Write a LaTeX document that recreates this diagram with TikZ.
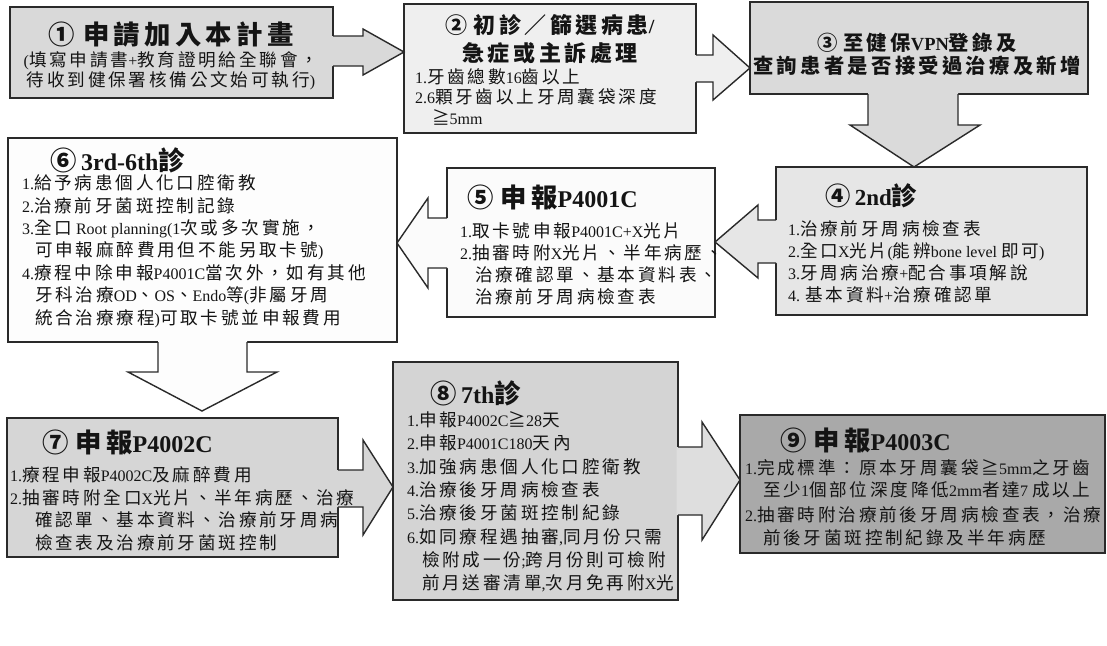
\documentclass[tikz,border=0pt]{standalone}
\usepackage{fontspec}
\usetikzlibrary{calc}
\setmainfont{Liberation Serif}
\newfontfamily\cjk{Noto Sans CJK TC}[Scale=1.1,LetterSpace=16]
\XeTeXinterchartokenstate=1
\newXeTeXintercharclass\cjkcls
\newcount\cjkc
\def\setcjkrange#1#2{\cjkc=#1 \loop\XeTeXcharclass\cjkc=\cjkcls\ifnum\cjkc<#2\advance\cjkc by 1 \repeat}
\setcjkrange{"4E00}{"9FFF}
\setcjkrange{"3000}{"303F}
\setcjkrange{"FF00}{"FFEF}
\setcjkrange{"2460}{"24FF}
\XeTeXcharclass"2267=\cjkcls
\XeTeXcharclass"2265=\cjkcls
\XeTeXinterchartoks 0 \cjkcls = {\cjk}
\XeTeXinterchartoks 4095 \cjkcls = {\cjk}
\XeTeXinterchartoks \cjkcls 0 = {\rmfamily}
\XeTeXinterchartoks \cjkcls 4095 = {\rmfamily}
\definecolor{lc}{HTML}{2A2A2A}
\definecolor{tc}{HTML}{141414}
\definecolor{g1}{HTML}{D9D9D9}
\definecolor{g2}{HTML}{EFEFEF}
\definecolor{g3}{HTML}{DADADA}
\definecolor{g4}{HTML}{E6E6E6}
\definecolor{g5}{HTML}{FBFBFB}
\definecolor{g6}{HTML}{FDFDFD}
\definecolor{g7}{HTML}{D6D6D6}
\definecolor{g8}{HTML}{D4D4D4}
\definecolor{g89}{HTML}{DEDEDE}
\definecolor{g9}{HTML}{A9A9A9}
\begin{document}
\begin{tikzpicture}[x=1pt,y=-1pt,
 bx/.style={draw=lc, line width=1.4pt, inner sep=0pt, outer sep=0pt, anchor=north west},
 edge/.style={draw=lc, line width=1.4pt, line join=miter},
 tl/.style={inner sep=0pt, outer sep=0pt, anchor=base west, text=tc, font=\bfseries\fontsize{24}{24}\selectfont},
 tlc/.style={tl, anchor=base},
 bd/.style={inner sep=0pt, outer sep=0pt, anchor=base west, text=tc, font=\fontsize{16}{16}\selectfont},
 bdc/.style={bd, anchor=base}]
\useasboundingbox (0,0) rectangle (1107,645);
\fill[white] (0,0) rectangle (1107,645);
% boxes
\node[bx, fill=g1, minimum width=323, minimum height=91] (b1) at (10,7) {};
\node[bx, fill=g2, minimum width=292, minimum height=129] (b2) at (404,4) {};
\node[bx, fill=g3, minimum width=338, minimum height=92] (b3) at (750,2) {};
\node[bx, fill=g4, minimum width=311, minimum height=148] (b4) at (776,167) {};
\node[bx, fill=g5, minimum width=268, minimum height=149] (b5) at (447,168) {};
\node[bx, fill=g6, minimum width=389, minimum height=204] (b6) at (8,138) {};
\node[bx, fill=g7, minimum width=331, minimum height=139] (b7) at (7,418) {};
\node[bx, fill=g8, minimum width=285, minimum height=238] (b8) at (393,362) {};
\node[bx, fill=g9, minimum width=365, minimum height=138] (b9) at (740,415) {};
\coordinate (t67) at (202,411);
% arrow 1 -> 2
\fill[g1] ($(b1.east|-0,36)+(-1.5,0)$) -- (363,36) -- (363,29) -- (b2.west|-0,52) -- (363,75) -- (363,66) -- ($(b1.east|-0,66)+(-1.5,0)$) -- cycle;
\draw[edge] (b1.east|-0,36) -- (363,36) -- (363,29) -- (b2.west|-0,52) -- (363,75) -- (363,66) -- (b1.east|-0,66);
% arrow 2 -> 3
\fill[g2] ($(b2.east|-0,55)+(-1.5,0)$) -- (713,55) -- (713,35) -- (b3.west|-0,68) -- (713,100) -- (713,82) -- ($(b2.east|-0,82)+(-1.5,0)$) -- cycle;
\draw[edge] (b2.east|-0,55) -- (713,55) -- (713,35) -- (b3.west|-0,68) -- (713,100) -- (713,82) -- (b2.east|-0,82);
% arrow 3 -> 4
\fill[g3] ($(868,0|-b3.south)+(0,-1.5)$) -- (868,125) -- (850,125) -- (914,0|-b4.north) -- (980,125) -- (958,125) -- ($(958,0|-b3.south)+(0,-1.5)$) -- cycle;
\draw[edge] (868,0|-b3.south) -- (868,125) -- (850,125) -- (914,0|-b4.north) -- (980,125) -- (958,125) -- (958,0|-b3.south);
% arrow 4 -> 5
\fill[g4] ($(b4.west|-0,220)+(1.5,0)$) -- (758,220) -- (758,205) -- (b5.east|-0,242) -- (758,278) -- (758,263) -- ($(b4.west|-0,263)+(1.5,0)$) -- cycle;
\draw[edge] (b4.west|-0,220) -- (758,220) -- (758,205) -- (b5.east|-0,242) -- (758,278) -- (758,263) -- (b4.west|-0,263);
% arrow 5 -> 6
\fill[g5] ($(b5.west|-0,218)+(1.5,0)$) -- (428,218) -- (428,198) -- (b6.east|-0,243) -- (428,288) -- (428,268) -- ($(b5.west|-0,268)+(1.5,0)$) -- cycle;
\draw[edge] (b5.west|-0,218) -- (428,218) -- (428,198) -- (b6.east|-0,243) -- (428,288) -- (428,268) -- (b5.west|-0,268);
% arrow 6 -> 7
\fill[g6] ($(158,0|-b6.south)+(0,-1.5)$) -- (158,372) -- (128,372) -- (t67) -- (277,372) -- (247,372) -- ($(247,0|-b6.south)+(0,-1.5)$) -- cycle;
\draw[edge] (158,0|-b6.south) -- (158,372) -- (128,372) -- (t67) -- (277,372) -- (247,372) -- (247,0|-b6.south);
% arrow 7 -> 8
\fill[g7] ($(b7.east|-0,470)+(-1.5,0)$) -- (363,470) -- (363,440) -- (b8.west|-0,487) -- (363,535) -- (363,507) -- ($(b7.east|-0,507)+(-1.5,0)$) -- cycle;
\draw[edge] (b7.east|-0,470) -- (363,470) -- (363,440) -- (b8.west|-0,487) -- (363,535) -- (363,507) -- (b7.east|-0,507);
% arrow 8 -> 9
\fill[g89] ($(b8.east|-0,447)+(-1.5,0)$) -- (702,447) -- (702,422) -- (b9.west|-0,480) -- (702,540) -- (702,515) -- ($(b8.east|-0,515)+(-1.5,0)$) -- cycle;
\draw[edge] (b8.east|-0,447) -- (702,447) -- (702,422) -- (b9.west|-0,480) -- (702,540) -- (702,515) -- (b8.east|-0,515);
% texts box 1
\node[tlc, font=\bfseries\fontsize{24}{24}\selectfont] (t1a) at (171,44) {①\hspace{0.35em}申請加入本計畫};
\node[bdc] (t1b) at (171,66) {(填寫申請書+教育證明給全聯會，};
\node[bdc] (t1c) at (171,86) {待收到健保署核備公文始可執行)};
% box 2
\node[tlc, font=\bfseries\fontsize{20}{20}\selectfont] (t2a) at (550,33) {②\hspace{0.3em}初診／篩選病患/};
\node[tlc, font=\bfseries\fontsize{20}{20}\selectfont] (t2b) at (550,61) {急症或主訴處理};
\node[bd] (t2c) at (415,83) {1.牙齒總數16齒以上};
\node[bd] (t2d) at (415,103) {2.6顆牙齒以上牙周囊袋深度};
\node[bd] (t2e) at (432,124) {≧5mm};
% box 3
\node[tlc, font=\bfseries\fontsize{18.5}{18.5}\selectfont] (t3a) at (917,50) {③\hspace{0.3em}至健保VPN登錄及};
\node[tlc, font=\bfseries\fontsize{18.5}{18.5}\selectfont] (t3b) at (917,73) {查詢患者是否接受過治療及新增};
% box 4
\node[tl, font=\bfseries\fontsize{23}{23}\selectfont] (t4a) at (825,205) {④\hspace{0.2em}2nd診};
\node[bd] (t4b) at (788,235) {1.治療前牙周病檢查表};
\node[bd] (t4c) at (788,257) {2.全口X光片(能辨bone level 即可)};
\node[bd] (t4d) at (788,279) {3.牙周病治療+配合事項解說};
\node[bd] (t4e) at (788,301) {4. 基本資料+治療確認單};
% box 5
\node[tl] (t5a) at (467,207) {⑤\hspace{0.3em}申報P4001C};
\node[bd] (t5b) at (460,237) {1.取卡號申報P4001C+X光片};
\node[bd] (t5c) at (460,259) {2.抽審時附X光片、半年病歷、};
\node[bd] (t5d) at (475,281) {治療確認單、基本資料表、};
\node[bd] (t5e) at (475,303) {治療前牙周病檢查表};
% box 6
\node[tl] (t6a) at (50,170) {⑥\hspace{0.2em}3rd-6th診};
\node[bd] (t6b) at (22,189) {1.給予病患個人化口腔衛教};
\node[bd] (t6c) at (22,212) {2.治療前牙菌斑控制記錄};
\node[bd] (t6d) at (22,234) {3.全口 Root planning(1次或多次實施，};
\node[bd] (t6e) at (35,256) {可申報麻醉費用但不能另取卡號)};
\node[bd] (t6f) at (22,279) {4.療程中除申報P4001C當次外，如有其他};
\node[bd] (t6g) at (35,301) {牙科治療OD、OS、Endo等(非屬牙周};
\node[bd] (t6h) at (35,324) {統合治療療程)可取卡號並申報費用};
% box 7
\node[tl] (t7a) at (42,452) {⑦\hspace{0.3em}申報P4002C};
\node[bd] (t7b) at (10,481) {1.療程申報P4002C及麻醉費用};
\node[bd] (t7c) at (10,504) {2.抽審時附全口X光片、半年病歷、治療};
\node[bd] (t7d) at (35,526) {確認單、基本資料、治療前牙周病};
\node[bd] (t7e) at (35,549) {檢查表及治療前牙菌斑控制};
% box 8
\node[tl] (t8a) at (430,403) {⑧\hspace{0.2em}7th診};
\node[bd] (t8b) at (407,426) {1.申報P4002C≧28天};
\node[bd] (t8c) at (407,449) {2.申報P4001C180天內};
\node[bd] (t8d) at (407,473) {3.加強病患個人化口腔衛教};
\node[bd] (t8e) at (407,496) {4.治療後牙周病檢查表};
\node[bd] (t8f) at (407,519) {5.治療後牙菌斑控制紀錄};
\node[bd] (t8g) at (407,543) {6.如同療程遇抽審,同月份只需};
\node[bd] (t8h) at (422,566) {檢附成一份;跨月份則可檢附};
\node[bd] (t8i) at (422,589) {前月送審清單,次月免再附X光};
% box 9
\node[tl] (t9a) at (780,450) {⑨\hspace{0.3em}申報P4003C};
\node[bd] (t9b) at (745,474) {1.完成標準：原本牙周囊袋≧5mm之牙齒};
\node[bd] (t9c) at (763,496) {至少1個部位深度降低2mm者達7 成以上};
\node[bd] (t9d) at (745,521) {2.抽審時附治療前後牙周病檢查表，治療};
\node[bd] (t9e) at (763,544) {前後牙菌斑控制紀錄及半年病歷};
\end{tikzpicture}
\end{document}
